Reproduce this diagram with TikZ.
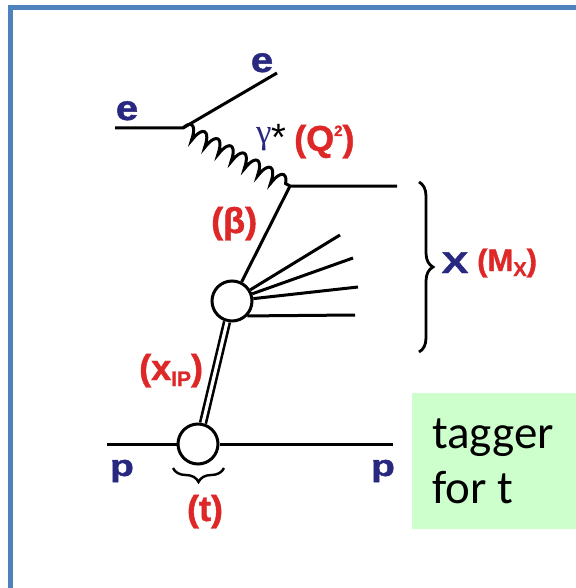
\documentclass[tikz,border=0pt]{standalone}
\usepackage{fontspec}
\setmainfont{Liberation Sans}[BoldFeatures={FakeBold=1.2}]
\newfontfamily\calfont{Carlito}
\newfontfamily\serfont{Liberation Serif}
\usetikzlibrary{decorations.pathmorphing,decorations.pathreplacing,calc}
\definecolor{frameblue}{RGB}{79,129,189}
\definecolor{lblue}{RGB}{40,40,128}
\definecolor{lred}{RGB}{222,40,40}
\definecolor{tagbg}{RGB}{204,255,204}
\newcommand{\wide}[2]{\scalebox{#1}[1]{#2}}
\begin{document}
\begin{tikzpicture}[x=1pt,y=-1pt,
  ln/.style={line width=3pt, black},
  blob/.style={circle, draw, line width=3pt, fill=white, minimum size=40pt, inner sep=0pt},
  bl/.style={text=lblue, font=\fontsize{32}{32}\selectfont\bfseries, inner sep=0pt},
  rd/.style={text=lred, font=\fontsize{36}{36}\selectfont\bfseries, inner sep=0pt},
  tg/.style={text=black, font=\calfont\fontsize{47}{47}\selectfont, inner sep=0pt, anchor=base west},
  bracestyle/.style={line width=2.8pt, decorate},
]
\useasboundingbox (0,0) rectangle (575,588);
\draw[frameblue, line width=5pt] (10.8,7.5) rectangle (590,590);

% green tagger box
\node[fill=tagbg, inner sep=0pt, minimum width=168pt, minimum height=136pt, anchor=north west] (tag) at (412,393) {};
\node[tg] (tag1) at (432,448) {tagger};
\node[tg] (tag2) at (432,503) {for t};

% vertices and endpoints
\coordinate (ein) at (115,128);
\coordinate (v1) at (183,128);
\coordinate (eout) at (277,73);
\coordinate (v2) at (290,186);
\coordinate (q) at (397,186);
\coordinate (pin) at (107,444);
\coordinate (pout) at (393,444);
\coordinate (f1) at (340,235);
\coordinate (f2) at (353,258);
\coordinate (f3) at (358,287);
\coordinate (f4) at (355,315);

\node[blob] (b1) at (232,301) {};
\node[blob] (b2) at (198,444) {};

% lines
\draw[ln] (ein) -- (v1) -- (eout);
\draw[ln, decorate, decoration={coil, segment length=15pt, amplitude=7pt, aspect=0.3}] (v1) -- (v2);
\draw[ln] (q) -- (v2) -- (b1);
\draw[ln] (b1) -- (f1);
\draw[ln] (b1) -- (f2);
\draw[ln] (b1) -- (f3);
\draw[ln] (b1.-44) -- (f4);
\draw[line width=2.6pt, double=white, double distance=3.2pt] (b2) -- (b1);
\draw[ln] (pin) -- (b2) -- (pout);

% braces
\coordinate (brt) at (419,182);
\coordinate (brb) at (419,352);
\draw[bracestyle, decoration={brace, amplitude=14pt}] (brt) -- (brb);
\coordinate (tbr) at (224,468);
\coordinate (tbl) at (173,468);
\draw[line width=2.4pt, decorate, decoration={brace, amplitude=14pt}] (tbr) -- (tbl);

% labels
\node[bl, anchor=base, font=\fontsize{35}{35}\selectfont\bfseries] (le) at (127,120) {\wide{1.15}{e}};
\node[bl, anchor=base, font=\fontsize{35}{35}\selectfont\bfseries] (te) at (262,72) {\wide{1.15}{e}};
\node[anchor=base west, inner sep=0pt] (gam) at (256,143)
  {{\color{lblue}\serfont\fontsize{35}{35}\selectfont γ}{\fontsize{38}{38}\selectfont\color{black}\raisebox{-7pt}{*}}};
\node[rd, anchor=base west] (qq) at (294,151) {(Q{\fontsize{15}{15}\selectfont\raisebox{15pt}{2}})};
\node[rd, anchor=base west] (beta) at (211,233) {(β)};
\node[rd, anchor=base west] (xip) at (139,380) {(x{\fontsize{21}{21}\selectfont\raisebox{-6pt}{IP}})};
\node[rd, anchor=base] (tt) at (205,521) {(t)};
\node[bl, anchor=base, font=\fontsize{30}{30}\selectfont\bfseries] (pl) at (122,476) {\wide{1.3}{p}};
\node[bl, anchor=base, font=\fontsize{30}{30}\selectfont\bfseries] (pr) at (383,476) {\wide{1.3}{p}};
\node[bl, anchor=base, font=\fontsize{30}{30}\selectfont\bfseries] (xx) at (455,273) {\wide{1.35}{X}};
\node[rd, anchor=base west, font=\fontsize{31}{31}\selectfont\bfseries] (mx) at (477,271) {(M{\fontsize{20}{20}\selectfont\raisebox{-5pt}{X}})};
\end{tikzpicture}
\end{document}
